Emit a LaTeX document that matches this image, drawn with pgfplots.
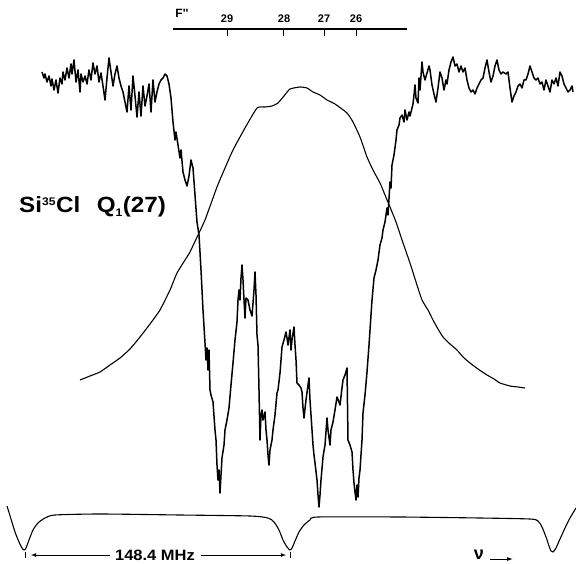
\documentclass[border=0pt]{standalone}
\usepackage{fontspec}
\setmainfont{Liberation Sans}
\usepackage{pgfplots}
\pgfplotsset{compat=1.18}
\usetikzlibrary{arrows.meta}
\begin{document}
\begin{tikzpicture}
\begin{axis}[width=576pt,height=564pt,scale only axis,hide axis,
  xmin=0,xmax=576,ymin=0,ymax=564,y dir=reverse,clip=false]
% absorption spectrum
\addplot[black,line width=1.5pt,line join=round] coordinates {
(42,72)(44,78)(45,74)(47,82)(49,76)(51,86)(52,79)(54,90)(56,80)(58,93)(60,78)(62,84)(63,72)(65,80)(67,68)(69,78)(71,64)(72,74)(74,60)(76,82)(78,70)(80,92)(81,74)(83,82)(85,76)(87,84)(89,70)(91,80)(93,63)(95,74)(97,66)(99,82)(101,73)(103,86)(105,100)(107,78)(109,58)(111,72)(113,86)(115,74)(117,66)(119,78)(121,86)(123,92)(125,102)(127,112)(129,86)(131,110)(133,76)(135,96)(137,117)(139,92)(141,116)(143,86)(145,106)(147,96)(149,84)(151,112)(153,80)(155,102)(157,92)(159,84)(161,80)(163,78)(165,74)(167,76)(169,84)(171,98)(173,122)(175,140)(176,132)(178,145)(180,158)(181,150)(183,172)(185,180)(187,186)(189,176)(191,160)(193,168)(195,195)(197,222)(199,235)
(201,270)(203,310)(205,343)(206,360)(207,348)(208,370)(209,350)(210,390)(211,395)(213,402)(215,430)(216,440)(217,465)(218,480)(219,470)(220,493)(221,475)(222,458)(224,445)(225,430)(227,420)(229,408)(231,385)(233,363)(235,340)(237,322)(238,300)(239,290)(240,300)(241,278)(242,265)(243,280)(244,300)(245,318)(246,298)(248,300)(250,310)(252,316)(254,290)(255,272)(256,295)(257,335)(258,345)(259,390)(260,440)(261,415)(262,410)(263,420)(265,412)(266,430)(267,440)(268,455)(269,465)(270,450)(272,440)(273,430)(275,415)(277,393)(278,390)(280,373)(281,360)(282,347)(284,340)(286,332)(287,338)(288,345)(290,330)(291,350)(292,340)(294,327)(295,345)(296,360)(297,383)(299,385)(301,388)(302,392)(303,408)(304,418)(306,400)(308,385)(309,378)(310,400)(312,430)(313,445)(314,455)(315,463)(317,480)(318,495)(319,507)(320,495)(321,480)(323,457)(325,445)(327,418)(328,430)(330,445)(331,430)(333,422)(335,410)(337,397)(339,402)(340,405)(342,388)(343,380)(345,375)(347,368)(348,440)(350,445)(352,452)(353,470)(354,483)(355,492)(356,500)(357,485)(358,497)(359,478)(360,470)(362,440)(363,413)(365,395)(367,372)(369,345)(370,330)(372,300)(374,278)(376,270)(378,260)(380,245)(382,238)(383,230)(385,222)(387,208)(388,215)(390,182)(391,188)(392,165)(394,155)(396,140)(397,130)(399,125)(400,118)(402,115)(404,122)(405,110)(407,120)(409,112)(410,116)(412,108)(413,104)(414,95)(415,85)(416,98)(418,103)(419,78)(420,90)(422,62)(423,72)(425,80)(427,73)(429,66)(430,70)(432,85)(434,94)(436,102)(438,88)(440,72)(442,78)(444,90)(446,80)(447,84)(449,70)(451,62)(453,57)(455,66)(457,64)(459,72)(461,66)(463,72)(465,68)(467,80)(469,88)(471,92)(473,90)(475,94)(477,88)(479,84)(481,80)(483,78)(485,68)(487,60)(489,72)(491,82)(493,76)(495,66)(497,60)(499,70)(501,74)(503,72)(506,74)(508,72)(510,88)(512,102)(514,96)(516,92)(518,86)(520,84)(522,88)(524,80)(526,80)(528,74)(530,66)(532,72)(534,78)(536,80)(538,78)(540,84)(542,82)(544,90)(546,80)(548,86)(550,92)(552,80)(554,84)(556,78)(558,86)(560,72)(562,76)(564,84)(566,88)(568,92)(570,90)(572,86)(573,92)
};
% broad Doppler profile
\addplot[black,line width=1.1pt,smooth,tension=0.3] coordinates {
(80,380)(90,376)(100,372)(110,365)(120,358)(130,349)(140,337)(150,324)(160,310)(170,290)(177,273)(185,260)(190,252)(198,235)(205,220)(217,187)(225,168)(233,150)(245,128)(257,108)(265,107)(272,106)(278,103)(284,96)(290,89)(300,87)(307,88)(313,92)(320,95)(327,100)(335,104)(347,113)(353,122)(360,137)(367,157)(373,170)(380,183)(385,195)(390,207)(396,222)(402,240)(410,263)(416,282)(422,300)(428,310)(433,320)(438,329)(443,337)(450,344)(457,350)(463,357)(470,363)(478,369)(487,375)(494,379)(500,383)(510,386)(518,387)(525,388)
};
% marker (etalon) trace
\addplot[black,line width=1.1pt,smooth,tension=0.4] coordinates {
(7,506)(11,519)(15,532)(19,542)(22,548)(24,550)(26,548)(29,540)(33,530)(38,523)(45,518)(55,515)(100,514)(180,515)(250,516)(268,518)(274,522)(279,530)(283,540)(287,547)(290,550)(292,548)(295,541)(299,532)(304,525)(310,520)(318,517)(400,517)(480,518)(530,519)(538,521)(542,527)(546,537)(549,546)(551,551)(553,552)(556,548)(560,539)(565,528)(570,518)(576,508)
};
% F'' scale
\addplot[black,line width=2.4pt] coordinates {(173,29)(407,29)};
\addplot[black,line width=1pt] coordinates {(227,29)(227,36)};
\addplot[black,line width=1pt] coordinates {(283,29)(283,36)};
\addplot[black,line width=1pt] coordinates {(324,29)(324,36)};
\addplot[black,line width=1pt] coordinates {(356,29)(356,36)};
\node[font=\bfseries\fontsize{11}{13}\selectfont] at (axis cs:227,19) {29};
\node[font=\bfseries\fontsize{11}{13}\selectfont] at (axis cs:284,19) {28};
\node[font=\bfseries\fontsize{11}{13}\selectfont] at (axis cs:324,19) {27};
\node[font=\bfseries\fontsize{11}{13}\selectfont] at (axis cs:356,19) {26};
\node[font=\bfseries\fontsize{12}{14}\selectfont] at (axis cs:182,13) {F\textquotesingle\textquotesingle};
% molecule label
\node[anchor=base west,inner sep=0pt,font=\bfseries\fontsize{22}{26}\selectfont] at (axis cs:19,213)
  {\scalebox{1.1}[1]{Si\textsuperscript{\fontsize{11}{13}\selectfont 35}Cl\hspace{15pt}Q\textsubscript{\fontsize{11}{13}\selectfont 1}(27)}};
% bottom annotations
\addplot[black,line width=1pt] coordinates {(25,552)(25,558)};
\addplot[black,line width=1pt] coordinates {(290,552)(290,558)};
\draw[-latex,line width=0.8pt] (axis cs:110,555) -- (axis cs:31,555);
\draw[-latex,line width=0.8pt] (axis cs:201,555) -- (axis cs:286,555);
\node[font=\bfseries\fontsize{15}{17}\selectfont] at (axis cs:155,555) {\scalebox{1.1}[1]{148.4 MHz}};
\node[font=\bfseries\fontsize{18}{20}\selectfont] at (axis cs:479,555) {ν};
\draw[-{Latex[length=6pt,width=4pt]},line width=0.9pt] (axis cs:490,559) -- (axis cs:513,559);
\end{axis}
\pgfresetboundingbox
\path (0,0) rectangle (576pt,564pt);
\end{tikzpicture}
\end{document}
